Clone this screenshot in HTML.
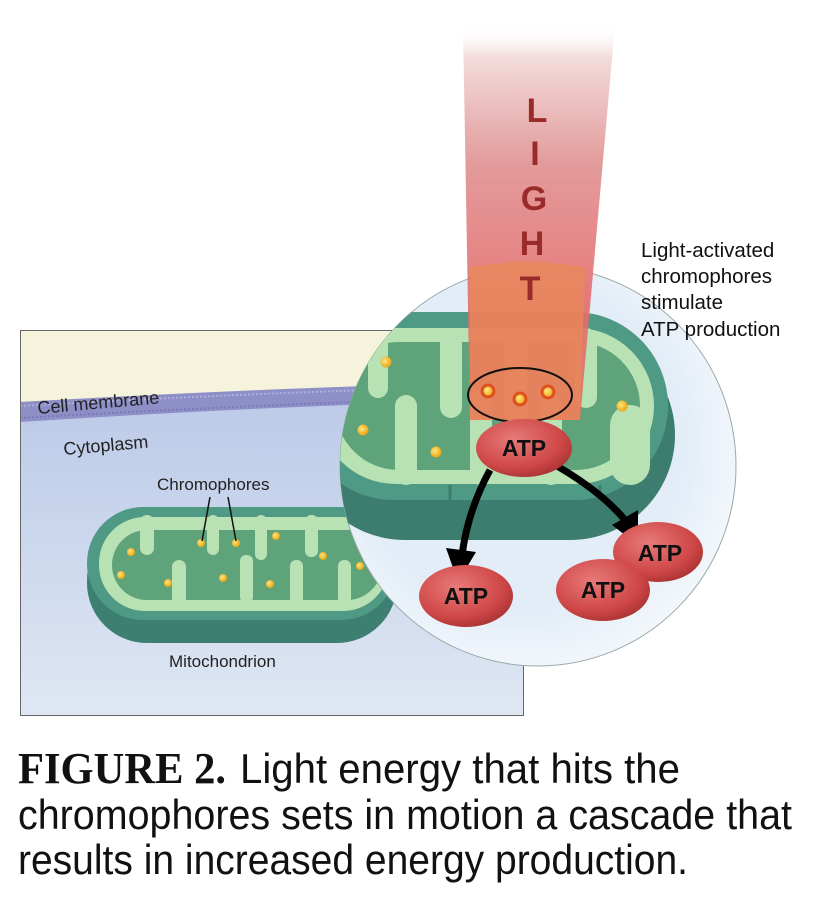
<!DOCTYPE html>
<html><head><meta charset="utf-8">
<style>
html,body{margin:0;padding:0;background:#fff;}
svg{display:block;}
</style></head>
<body>
<svg width="832" height="901" viewBox="0 0 832 901" xmlns="http://www.w3.org/2000/svg" font-family="Liberation Sans, sans-serif">
<defs>
  <linearGradient id="bg" x1="0" y1="0" x2="0" y2="1">
    <stop offset="0" stop-color="#b4c4e6"/>
    <stop offset="1" stop-color="#dfe7f3"/>
  </linearGradient>
  <linearGradient id="beam" x1="0" y1="0" x2="0" y2="1">
    <stop offset="0" stop-color="#ffffff" stop-opacity="0"/>
    <stop offset="0.08" stop-color="#f2d8d8"/>
    <stop offset="0.35" stop-color="#e09090"/>
    <stop offset="0.7" stop-color="#e46c6c"/>
    <stop offset="1" stop-color="#e46c6c"/>
  </linearGradient>
  <radialGradient id="circ" cx="0.45" cy="0.45" r="0.6">
    <stop offset="0.7" stop-color="#e3edf7"/>
    <stop offset="1" stop-color="#f6f9fc"/>
  </radialGradient>
  <radialGradient id="atp" cx="0.4" cy="0.35" r="0.7">
    <stop offset="0" stop-color="#e87a7a"/>
    <stop offset="0.7" stop-color="#cf4747"/>
    <stop offset="1" stop-color="#a83232"/>
  </radialGradient>
  <radialGradient id="dot" cx="0.4" cy="0.4" r="0.6">
    <stop offset="0" stop-color="#ffe680"/>
    <stop offset="1" stop-color="#eaa514"/>
  </radialGradient>
  <clipPath id="cc"><ellipse cx="538" cy="466" rx="198" ry="200"/></clipPath>
  <clipPath id="rc"><rect x="20" y="330" width="503" height="385"/></clipPath>
</defs>

<g clip-path="url(#rc)">
  <rect x="20" y="330" width="503" height="385" fill="url(#bg)"/>
  <path d="M20 330 H523 V385 Q300 390 20 405 Z" fill="#f6f3dc"/>
  <path d="M20 402 Q300 386 523 382 L523 400 Q300 404 20 422 Z" fill="#8f8fc8"/>
  <path d="M20 406 Q300 390 523 386" stroke="#b0b0dd" stroke-width="2" stroke-dasharray="2 2" fill="none"/>
  <path d="M20 418 Q300 402 523 397" stroke="#7a7ab8" stroke-width="2" stroke-dasharray="2 2" fill="none"/>

  <rect x="87" y="520" width="310" height="123" rx="60" fill="#3d7f70"/>
  <rect x="87" y="507" width="310" height="113" rx="56" fill="#4f9a84"/>
  <rect x="99" y="517" width="290" height="94" rx="46" fill="#b8e2b4"/>
  <rect x="112" y="530" width="270" height="70" rx="35" fill="#5ea37a"/>
  <g fill="#b8e2b4">
    <rect x="140" y="515" width="14" height="40" rx="7"/>
    <rect x="172" y="560" width="14" height="45" rx="7"/>
    <rect x="207" y="515" width="12" height="40" rx="6"/>
    <rect x="240" y="555" width="13" height="48" rx="6"/>
    <rect x="255" y="515" width="12" height="45" rx="6"/>
    <rect x="290" y="560" width="13" height="45" rx="6"/>
    <rect x="305" y="515" width="13" height="42" rx="6"/>
    <rect x="338" y="560" width="13" height="45" rx="6"/>
  </g>
  <g fill="url(#dot)">
    <circle cx="131" cy="552" r="4"/><circle cx="121" cy="575" r="4"/>
    <circle cx="168" cy="583" r="4"/><circle cx="201" cy="543" r="4"/>
    <circle cx="236" cy="543" r="4"/><circle cx="276" cy="536" r="4"/>
    <circle cx="223" cy="578" r="4"/><circle cx="270" cy="584" r="4"/>
    <circle cx="323" cy="556" r="4"/><circle cx="360" cy="566" r="4"/>
  </g>
</g>
<rect x="20.5" y="330.5" width="503" height="385" fill="none" stroke="#666" stroke-width="1"/>

<text x="38" y="414" font-size="18" fill="#222" transform="rotate(-5 38 414)">Cell membrane</text>
<text x="64" y="455" font-size="18" fill="#222" transform="rotate(-5 64 455)">Cytoplasm</text>
<text x="157" y="490" font-size="17" fill="#222">Chromophores</text>
<line x1="210" y1="497" x2="202" y2="541" stroke="#111" stroke-width="1.5"/>
<line x1="228" y1="497" x2="236" y2="541" stroke="#111" stroke-width="1.5"/>
<text x="169" y="667" font-size="17" fill="#222">Mitochondrion</text>

<ellipse cx="538" cy="466" rx="198" ry="200" fill="url(#circ)" stroke="#9aa" stroke-width="1"/>
<g clip-path="url(#cc)">
  <rect x="300" y="330" width="375" height="210" rx="105" fill="#3c7d6f"/>
  <rect x="300" y="312" width="368" height="188" rx="94" fill="#4f9a84"/>
  <rect x="318" y="328" width="336" height="156" rx="78" fill="#b8e2b4"/>
  <rect x="335" y="342" width="305" height="128" rx="64" fill="#5ea37a"/>
  <g fill="#b8e2b4">
    <rect x="368" y="328" width="20" height="70" rx="10"/>
    <rect x="395" y="395" width="22" height="90" rx="11"/>
    <rect x="440" y="328" width="22" height="90" rx="11"/>
    <rect x="470" y="390" width="22" height="95" rx="11"/>
    <rect x="505" y="328" width="22" height="100" rx="11"/>
    <rect x="540" y="395" width="22" height="90" rx="11"/>
    <rect x="575" y="328" width="22" height="80" rx="11"/>
    <rect x="610" y="405" width="40" height="80" rx="20"/>
  </g>
  <line x1="450" y1="485" x2="450" y2="500" stroke="#3c7d6f" stroke-width="3"/>
  <line x1="600" y1="485" x2="600" y2="500" stroke="#3c7d6f" stroke-width="3"/>
</g>

<path d="M463 25 L615 25 L580 420 L470 420 Z" fill="url(#beam)" opacity="0.9"/>
<path d="M470 268 Q525 255 585 268 L580 420 L470 420 Z" fill="#e88a55" opacity="0.7"/>
<g font-size="34" fill="#9a2b2b" text-anchor="middle" font-weight="bold">
  <text x="537" y="122">L</text>
  <text x="535" y="165">I</text>
  <text x="534" y="210">G</text>
  <text x="532" y="255">H</text>
  <text x="530" y="300">T</text>
</g>

<g fill="url(#dot)">
  <circle cx="386" cy="362" r="5.5"/><circle cx="363" cy="430" r="5.5"/>
  <circle cx="436" cy="452" r="5.5"/><circle cx="622" cy="406" r="5.5"/>
</g>
<g fill="url(#dot)" stroke="#e0501e" stroke-width="3">
  <circle cx="488" cy="391" r="6"/><circle cx="520" cy="399" r="6"/><circle cx="548" cy="392" r="6"/>
</g>
<ellipse cx="520" cy="395" rx="52" ry="27" fill="none" stroke="#111" stroke-width="2"/>

<path d="M490 470 Q468 510 462 555" stroke="#000" stroke-width="7" fill="none"/>
<polygon points="446,548 476,552 458,582" fill="#000"/>
<path d="M550 462 Q600 490 625 520" stroke="#000" stroke-width="7" fill="none"/>
<polygon points="612,525 638,510 638,545" fill="#000"/>

<g font-size="23" font-weight="bold" fill="#111" text-anchor="middle">
  <ellipse cx="524" cy="448" rx="48" ry="29" fill="url(#atp)"/>
  <text x="524" y="456">ATP</text>
  <ellipse cx="466" cy="596" rx="47" ry="31" fill="url(#atp)"/>
  <text x="466" y="604">ATP</text>
  <ellipse cx="658" cy="552" rx="45" ry="30" fill="url(#atp)"/>
  <text x="660" y="561">ATP</text>
  <ellipse cx="603" cy="590" rx="47" ry="31" fill="url(#atp)"/>
  <text x="603" y="598">ATP</text>
</g>

<g font-size="20.5" fill="#111">
  <text x="641" y="257">Light-activated</text>
  <text x="641" y="283">chromophores</text>
  <text x="641" y="309">stimulate</text>
  <text x="641" y="336">ATP production</text>
</g>

<text x="18" y="783" font-family="Liberation Serif, serif" font-weight="bold" font-size="44" fill="#111" textLength="208" lengthAdjust="spacingAndGlyphs">FIGURE 2.</text>
<text x="240" y="783" font-size="42" fill="#111" textLength="440" lengthAdjust="spacingAndGlyphs">Light energy that hits the</text>
<text x="18" y="829" font-size="42" fill="#111" textLength="774" lengthAdjust="spacingAndGlyphs">chromophores sets in motion a cascade that</text>
<text x="18" y="874" font-size="42" fill="#111" textLength="670" lengthAdjust="spacingAndGlyphs">results in increased energy production.</text>
</svg>
</body></html>
